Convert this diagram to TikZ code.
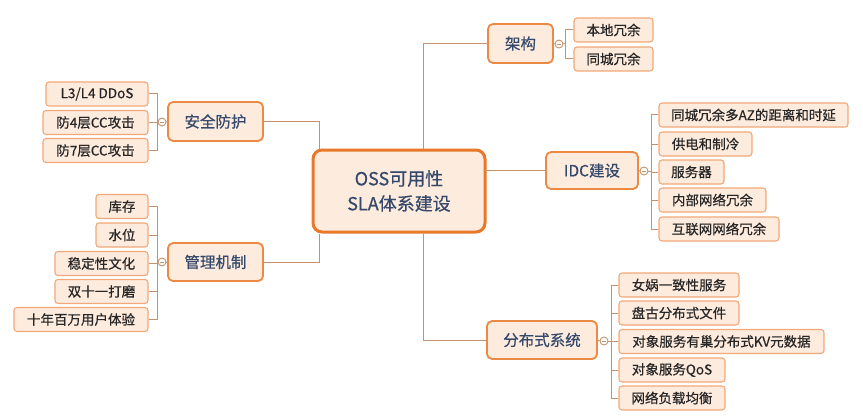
\documentclass[tikz,border=0pt]{standalone}
\usepackage{fontspec}
\setmainfont{Noto Sans CJK SC}[FakeBold=0.5]
\definecolor{mainor}{HTML}{E8782A}
\definecolor{lvor}{HTML}{EC8A45}
\definecolor{chor}{HTML}{F2A878}
\definecolor{fillc}{HTML}{FDEBDD}
\definecolor{connc}{HTML}{C4936E}
\definecolor{lvtext}{HTML}{34496B}
\definecolor{chtext}{HTML}{262626}
\tikzset{
  centerbox/.style={draw=mainor, line width=3pt, fill=fillc, rounded corners=9pt, inner sep=0pt, align=center, font=\fontsize{18}{25}\selectfont, text=lvtext},
  lvbox/.style={draw=lvor, line width=1.8pt, fill=fillc, rounded corners=5pt, inner sep=0pt, font=\fontsize{15.5}{18}\selectfont, text=lvtext},
  chbox/.style={draw=chor, line width=1.1pt, fill=fillc, rounded corners=3pt, inner sep=0pt, minimum height=24pt, font=\fontsize{13.5}{16}\selectfont, text=chtext},
  conn/.style={draw=connc, line width=1pt},
  fold/.style={circle, draw=connc, line width=0.9pt, fill=white, minimum size=8pt, inner sep=0pt,
    path picture={\draw[connc, line width=0.6pt] ([xshift=-2pt]path picture bounding box.center) -- ([xshift=2pt]path picture bounding box.center);}}
}
\begin{document}
\begin{tikzpicture}[x=1pt,y=-1pt]
\fill[white] (0,0) rectangle (863,420);
\useasboundingbox (0,0) rectangle (863,420);

% center
\node[centerbox, minimum width=172pt, minimum height=82pt] (c) at (399,191) {OSS可用性\\SLA体系建设};

% left group 1
\node[lvbox, minimum width=95pt, minimum height=39pt] (s) at (215.5,121.5) {安全防护};
\node[chbox, minimum width=102pt] (s1) at (97,94) {L3/L4 DDoS};
\node[chbox, minimum width=105pt] (s2) at (95.5,122.5) {防4层CC攻击};
\node[chbox, minimum width=105pt] (s3) at (95.5,150.5) {防7层CC攻击};
\node[fold] (sf) at (162,122) {};
\coordinate (sb) at (157,122);

% left group 2
\node[lvbox, minimum width=95pt, minimum height=38pt] (m) at (215.5,262) {管理机制};
\node[chbox, minimum width=52pt] (m1) at (122,206.5) {库存};
\node[chbox, minimum width=52pt] (m2) at (122,235) {水位};
\node[chbox, minimum width=93pt] (m3) at (101.5,263.5) {稳定性文化};
\node[chbox, minimum width=93pt] (m4) at (101.5,291.5) {双十一打磨};
\node[chbox, minimum width=134pt] (m5) at (81,319.5) {十年百万用户体验};
\node[fold] (mf) at (162,262) {};
\coordinate (mb) at (157,262);

% right group 1
\node[lvbox, minimum width=65pt, minimum height=39pt] (j) at (520.5,43.5) {架构};
\node[chbox, minimum width=79pt] (j1) at (613.5,30) {本地冗余};
\node[chbox, minimum width=79pt] (j2) at (613.5,59) {同城冗余};
\node[fold] (jf) at (559,44) {};
\coordinate (jb) at (565,44);

% right group 2
\node[lvbox, minimum width=92pt, minimum height=37pt] (d) at (592,170.5) {IDC建设};
\node[chbox, minimum width=189pt] (d1) at (753.5,115) {同城冗余多AZ的距离和时延};
\node[chbox, minimum width=93pt] (d2) at (705.5,144) {供电和制冷};
\node[chbox, minimum width=65pt] (d3) at (691.5,172) {服务器};
\node[chbox, minimum width=107pt] (d4) at (712.5,200) {内部网络冗余};
\node[chbox, minimum width=120pt] (d5) at (719,229) {互联网网络冗余};
\node[fold] (df) at (644,171) {};
\coordinate (db) at (651,171);

% right group 3
\node[lvbox, minimum width=110pt, minimum height=38pt] (f) at (542,340) {分布式系统};
\node[chbox, minimum width=120pt] (f1) at (679,285) {女娲一致性服务};
\node[chbox, minimum width=120pt] (f2) at (679,313) {盘古分布式文件};
\node[chbox, minimum width=205pt] (f3) at (721.5,341.5) {对象服务有巢分布式KV元数据};
\node[chbox, minimum width=106pt] (f4) at (672,370) {对象服务QoS};
\node[chbox, minimum width=106pt] (f5) at (672,398) {网络负载均衡};
\node[fold] (ff) at (604,341) {};
\coordinate (fb) at (611,341);

% connectors from center
\draw[conn] (s.east) -| ([xshift=8pt]c.north west);
\draw[conn] (m.east) -| ([xshift=8pt]c.south west);
\draw[conn] ([xshift=112pt]c.north west) |- (j.west);
\draw[conn] ([xshift=112pt]c.south west) |- (f.west);
\draw[conn] (c.east |- d.west) -- (d.west);

% brackets
\foreach \k in {s1,s2,s3} \draw[conn] (\k.east) -| (sb);
\draw[conn] (sb) -- (sf.west); \draw[conn] (sf.east) -- (s.west);
\foreach \k in {m1,m2,m3,m4,m5} \draw[conn] (\k.east) -| (mb);
\draw[conn] (mb) -- (mf.west); \draw[conn] (mf.east) -- (m.west);
\foreach \k in {j1,j2} \draw[conn] (\k.west) -| (jb);
\draw[conn] (jb) -- (jf.east); \draw[conn] (jf.west) -- (j.east);
\foreach \k in {d1,d2,d3,d4,d5} \draw[conn] (\k.west) -| (db);
\draw[conn] (db) -- (df.east); \draw[conn] (df.west) -- (d.east);
\foreach \k in {f1,f2,f3,f4,f5} \draw[conn] (\k.west) -| (fb);
\draw[conn] (fb) -- (ff.east); \draw[conn] (ff.west) -- (f.east);
\end{tikzpicture}
\end{document}
